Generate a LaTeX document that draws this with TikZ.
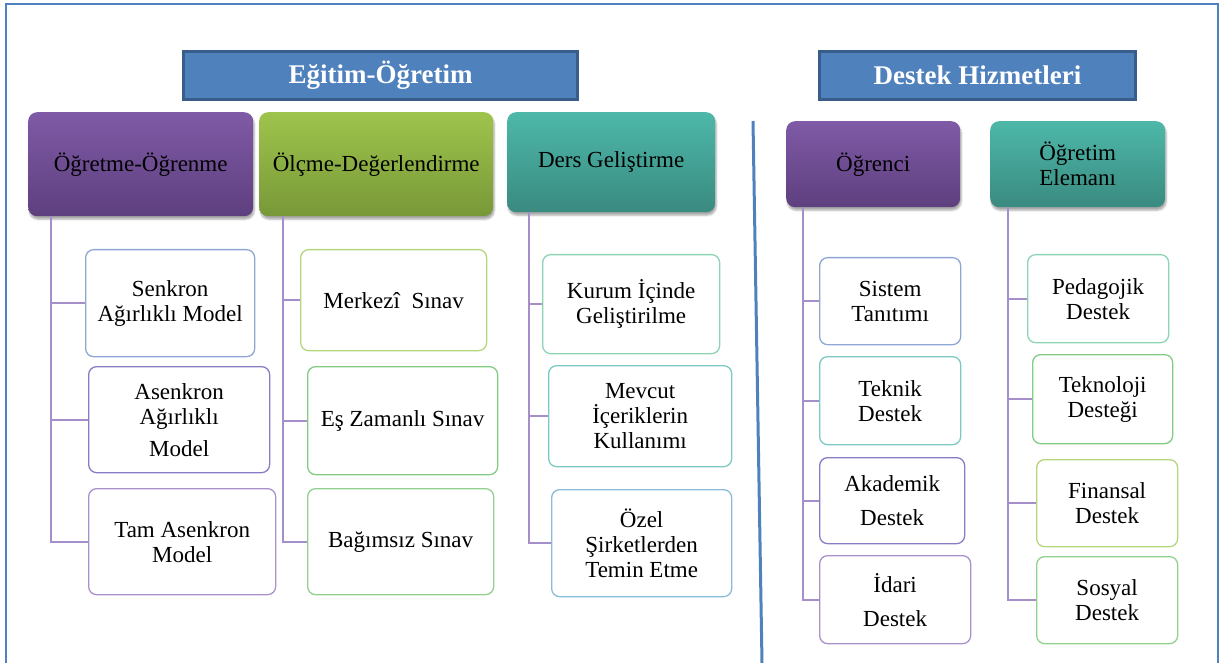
\documentclass[tikz,border=0pt]{standalone}
\usepackage{fontspec}
\setmainfont{LiberationSerif}[Extension=.ttf, UprightFont=*-Regular, BoldFont=*-Bold]
\newfontfamily\boxfont{LiberationSerif}[Extension=.ttf, UprightFont=*-Regular, BoldFont=*-Bold]
\usetikzlibrary{shadows,shadows.blur}

% palette
\definecolor{framebl}{HTML}{4F81BD}
\definecolor{headfill}{HTML}{4F81BD}
\definecolor{headline}{HTML}{385D8A}
\definecolor{purtop}{HTML}{7F5AA6}
\definecolor{purbot}{HTML}{5E3F7E}
\definecolor{grntop}{HTML}{9EC44C}
\definecolor{grnbot}{HTML}{789838}
\definecolor{tealtop}{HTML}{4DB8A9}
\definecolor{tealbot}{HTML}{3A8A80}
\definecolor{connc}{HTML}{A58FCB}
\definecolor{bSky}{HTML}{8FA6D4}
\definecolor{bPurp}{HTML}{8A7CC4}
\definecolor{bLilac}{HTML}{A991CC}
\definecolor{bLime}{HTML}{B6D67E}
\definecolor{bGreen}{HTML}{82CC84}
\definecolor{bGreenB}{HTML}{92D18D}
\definecolor{bMint}{HTML}{8CD4B4}
\definecolor{bTeal}{HTML}{7CC9C4}
\definecolor{bBlue}{HTML}{8ABCD8}

\tikzset{
  frameline/.style={draw=framebl, line width=2pt},
  divider/.style={draw=framebl, line width=3pt},
  header/.style={draw=headline, line width=3pt, fill=headfill, text=white,
    anchor=north west, inner sep=0pt,
    font=\boxfont\fontsize{27}{30}\selectfont\bfseries},
  cat/.style={rounded corners=9pt, anchor=north west, align=center, inner sep=2pt,
    font=\boxfont\fontsize{23}{25}\selectfont,
    blur shadow={shadow xshift=1pt, shadow yshift=-3pt, shadow opacity=35, shadow blur steps=6}},
  purplecat/.style={cat, top color=purtop, bottom color=purbot},
  greencat/.style={cat, top color=grntop, bottom color=grnbot},
  tealcat/.style={cat, top color=tealtop, bottom color=tealbot},
  leaf/.style={draw, fill=white, rounded corners=8pt, line width=1.3pt,
    anchor=north west, align=center, inner sep=2pt,
    font=\boxfont\fontsize{23}{25}\selectfont},
  conn/.style={draw=connc, line width=2pt},
}

\begin{document}
\begin{tikzpicture}[x=1pt,y=-1pt]
\useasboundingbox (0,0) rectangle (1232,663);

% outer frame and column divider
\draw[frameline] (6,663) -- (6,4) -- (1218,4) -- (1218,663);
\draw[divider] (753,121) -- (762,663);

% section headers
\node[header, minimum width=394, minimum height=48] (eo) at (182,50) {Eğitim-Öğretim};
\node[header, minimum width=316, minimum height=48] (dh) at (818,50) {Destek Hizmetleri};

% category boxes
\node[purplecat, minimum width=225, minimum height=104] (oo) at (28,112) {Öğretme-Öğrenme};
\node[greencat,  minimum width=234, minimum height=104] (od) at (259,112) {Ölçme-Değerlendirme};
\node[tealcat,   minimum width=208, minimum height=100] (dg) at (507,112) {Ders Geliştirme};
\node[purplecat, minimum width=174, minimum height=86] (og) at (786,121) {Öğrenci};
\node[tealcat,   minimum width=175, minimum height=86] (oe) at (990,121) {Öğretim\\Elemanı};

% Öğretme-Öğrenme items
\node[leaf, draw=bSky,   minimum width=169, minimum height=107] (s1) at (85,249) {Senkron\\Ağırlıklı Model};
\node[leaf, draw=bPurp,  minimum width=181, minimum height=106] (s2) at (88,366) {Asenkron\\Ağırlıklı\\[7pt]Model};
\node[leaf, draw=bLilac, minimum width=187, minimum height=106] (s3) at (88,488) {Tam Asenkron\\Model};

% Ölçme-Değerlendirme items
\node[leaf, draw=bLime,   minimum width=186, minimum height=101] (m1) at (300,249) {Merkezî~ Sınav};
\node[leaf, draw=bGreen,  minimum width=190, minimum height=108] (m2) at (307,366) {Eş Zamanlı Sınav};
\node[leaf, draw=bGreenB, minimum width=186, minimum height=106] (m3) at (307,488) {Bağımsız Sınav};

% Ders Geliştirme items
\node[leaf, draw=bMint, minimum width=177, minimum height=99]  (d1) at (542,254) {Kurum İçinde\\Geliştirilme};
\node[leaf, draw=bTeal, minimum width=183, minimum height=101] (d2) at (548,365) {Mevcut\\İçeriklerin\\Kullanımı};
\node[leaf, draw=bBlue, minimum width=180, minimum height=107] (d3) at (551,489) {Özel\\Şirketlerden\\Temin Etme};

% Öğrenci items
\node[leaf, draw=bSky,   minimum width=141, minimum height=87] (r1) at (819,257) {Sistem\\Tanıtımı};
\node[leaf, draw=bTeal,  minimum width=141, minimum height=88] (r2) at (819,356) {Teknik\\Destek};
\node[leaf, draw=bPurp,  minimum width=145, minimum height=86] (r3) at (819,457) {Akademik\\[9pt]Destek};
\node[leaf, draw=bLilac, minimum width=151, minimum height=88] (r4) at (819,555) {İdari\\[9pt]Destek};

% Öğretim Elemanı items
\node[leaf, draw=bMint,   minimum width=141, minimum height=88] (e1) at (1027,254) {Pedagojik\\Destek};
\node[leaf, draw=bGreen,  minimum width=140, minimum height=89] (e2) at (1032,354) {Teknoloji\\Desteği};
\node[leaf, draw=bLime,   minimum width=141, minimum height=87] (e3) at (1036,459) {Finansal\\Destek};
\node[leaf, draw=bGreenB, minimum width=141, minimum height=87] (e4) at (1036,556) {Sosyal\\Destek};

% tree connectors
\foreach \t in {s1,s2,s3} \draw[conn] (oo.south west) ++(23,0) |- (\t.west);
\foreach \t in {m1,m2,m3} \draw[conn] (od.south west) ++(24,0) |- (\t.west);
\foreach \t in {d1,d2,d3} \draw[conn] (dg.south west) ++(22,0) |- (\t.west);
\foreach \t in {r1,r2,r3,r4} \draw[conn] (og.south west) ++(17,0) |- (\t.west);
\foreach \t in {e1,e2,e3,e4} \draw[conn] (oe.south west) ++(18,0) |- (\t.west);

\end{tikzpicture}
\end{document}
